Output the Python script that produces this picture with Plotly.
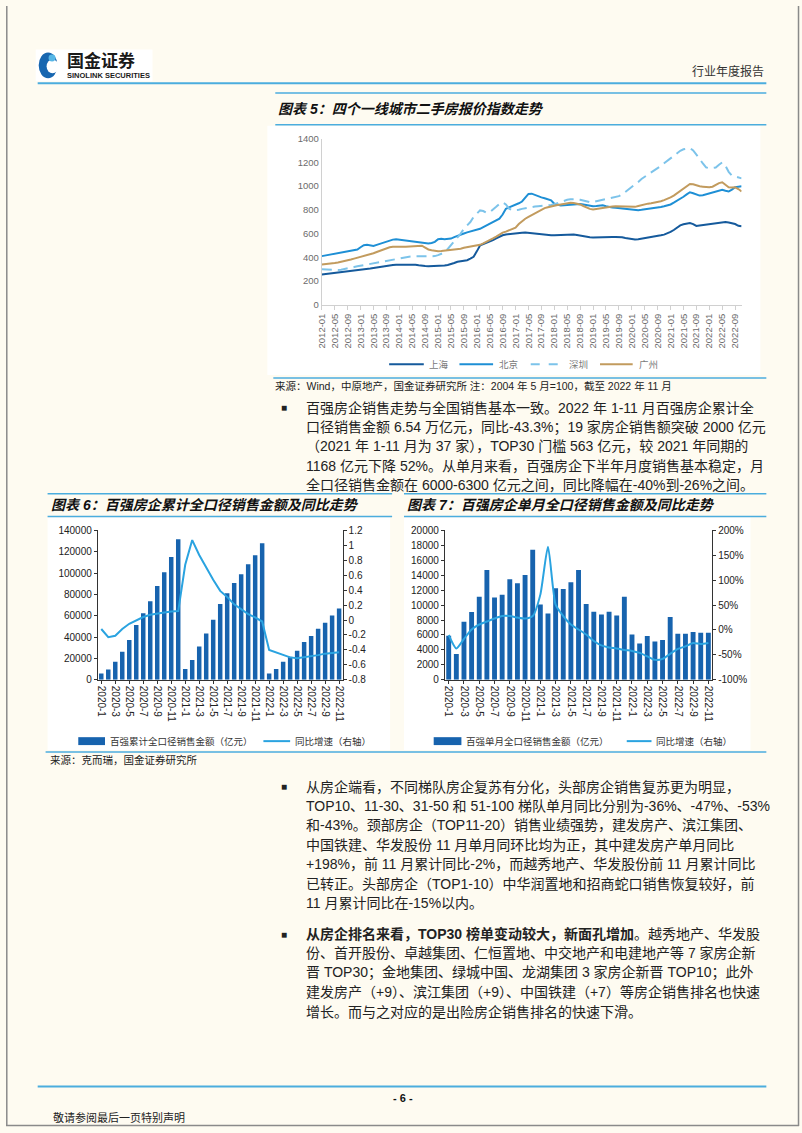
import plotly.graph_objects as go

W, H = 802, 1133
def fx(x): return x / W
def fy(y): return 1 - y / H

# ---------------- Data: chart 5 (second-hand listing price index) ----------------
months5 = [f"{yr}-{mo:02d}" for yr in range(2012, 2023) for mo in range(1, 13)][:131]
tick5 = months5[::4]

shanghai = [255, 258, 261, 265, 268, 271, 274, 277, 280, 283, 286, 289,
            293, 296, 300, 305, 309, 314, 320, 326, 330, 333, 335, 337,
            338, 339, 340, 341, 340, 338, 333, 328, 326, 325, 325, 326,
            326, 328, 331, 335, 342, 352, 363, 368, 372, 376, 388, 404,
            450, 500, 512, 522, 530, 545, 560, 575, 586, 592, 596, 598,
            600, 604, 606, 608, 605, 600, 596, 592, 590, 588, 587, 586,
            586, 588, 590, 592, 594, 594, 592, 588, 582, 577, 572, 569,
            566, 568, 570, 572, 573, 573, 572, 572, 571, 568, 562, 557,
            552, 551, 552, 556, 561, 566, 572, 576, 580, 585, 591, 600,
            614, 630, 650, 669, 678, 685, 689, 680, 664, 668, 672, 675,
            678, 681, 683, 687, 692, 697, 693, 689, 680, 665, 661]
beijing = [410, 415, 420, 424, 428, 432, 438, 444, 450, 456, 462, 466,
           485, 502, 505, 500, 496, 505, 515, 525, 535, 542, 549, 552,
           548, 546, 544, 540, 535, 530, 524, 520, 518, 516, 520, 530,
           552, 556, 553, 555, 558, 570, 582, 592, 600, 610, 618, 622,
           628, 640, 655, 670, 683, 695, 710, 725, 760, 809, 820, 830,
           842, 855, 870, 905, 934, 936, 925, 912, 905, 898, 892, 880,
           851, 842, 837, 838, 840, 845, 850, 851, 848, 845, 840, 835,
           831, 832, 835, 838, 830, 823, 820, 818, 815, 812, 809, 805,
           800, 795, 797, 800, 803, 806, 809, 812, 818, 824, 830, 837,
           845, 860, 875, 892, 910, 930, 948, 940, 930, 920, 922, 930,
           940, 948, 955, 962, 968, 960, 954, 970, 990, 995, 998]
shenzhen = [300, 298, 296, 295, 294, 293, 296, 300, 306, 312, 318, 324,
            329, 334, 340, 346, 352, 358, 363, 368, 373, 378, 384, 390,
            394, 398, 402, 405, 408, 410, 410, 409, 408, 408, 409, 410,
            418, 428, 441, 470, 502, 530, 560, 600, 640, 668, 697, 740,
            770, 795, 790, 775, 780, 800, 825, 850, 864, 845, 810, 795,
            795, 800, 808, 814, 818, 822, 827, 831, 833, 835, 837, 840,
            848, 858, 868, 878, 884, 888, 892, 890, 885, 878, 870, 864,
            866, 872, 880, 887, 892, 897, 902, 906, 915, 930, 950, 976,
            995, 1015, 1035, 1060, 1078, 1095, 1112, 1130, 1150, 1170, 1192, 1213,
            1232, 1252, 1275, 1297, 1310, 1316, 1320, 1300, 1269, 1230, 1190, 1157,
            1150, 1155, 1157, 1180, 1199, 1170, 1120, 1088, 1080, 1075, 1065]
guangzhou = [340, 342, 345, 349, 353, 357, 362, 368, 375, 382, 389, 396,
             403, 410, 417, 424, 434, 445, 456, 467, 476, 484, 488, 490,
             490, 489, 488, 490, 494, 498, 502, 498, 482, 466, 460, 455,
             452, 454, 456, 458, 460, 464, 468, 472, 480, 485, 490, 493,
             496, 505, 518, 530, 544, 560, 575, 592, 608, 616, 626, 636,
             650, 680, 705, 725, 740, 755, 767, 782, 798, 814, 822, 830,
             837, 840, 845, 850, 855, 859, 857, 852, 845, 832, 818, 808,
             803, 808, 812, 817, 820, 824, 828, 831, 830, 828, 826, 824,
             823, 825, 832, 840, 848, 852, 856, 860, 864, 872, 882, 892,
             905, 920, 940, 962, 985, 1005, 1018, 1015, 1005, 998, 995, 992,
             990, 995, 1010, 1025, 1032, 1010, 990, 988, 990, 975, 954]

# ---------------- Data: charts 6 & 7 ----------------
months67 = ["2020-1", "2020-2", "2020-3", "2020-4", "2020-5", "2020-6", "2020-7", "2020-8",
            "2020-9", "2020-10", "2020-11", "2020-12",
            "2021-1", "2021-2", "2021-3", "2021-4", "2021-5", "2021-6", "2021-7", "2021-8",
            "2021-9", "2021-10", "2021-11", "2021-12",
            "2022-1", "2022-2", "2022-3", "2022-4", "2022-5", "2022-6", "2022-7", "2022-8",
            "2022-9", "2022-10", "2022-11"]
tick67 = months67[::2]

cum_sales = [5900, 9600, 17000, 26200, 37400, 51300, 62400, 73500, 88000, 100700, 115000, 131700,
             10200, 18500, 31200, 43300, 56300, 71100, 81000, 90600, 98900, 108200, 116800, 127900,
             5800, 10200, 17000, 21600, 27200, 35500, 41100, 47900, 53500, 60300, 66800]
cum_yoy = [-0.12, -0.23, -0.21, -0.12, -0.05, 0.0, 0.04, 0.07, 0.09, 0.10, 0.115, 0.12,
           0.74, 1.07, 0.87, 0.70, 0.54, 0.39, 0.31, 0.21, 0.15, 0.08, 0.036, -0.02,
           -0.40, -0.43, -0.46, -0.50, -0.51, -0.50, -0.49, -0.47, -0.45, -0.44, -0.43]

mon_sales = [5900, 3440, 7770, 9090, 11130, 14700, 11000, 11400, 13470, 12940, 14040, 17400,
             10070, 8870, 12270, 12150, 13070, 14700, 10160, 9100, 8740, 9100, 8600, 11130,
             6050, 4860, 5870, 5120, 5340, 8390, 6180, 6180, 6400, 6310, 6310]
mon_yoy = [-10, -37, -18, 1, 11, 17, 23, 28, 28, 25, 23, 28,
           71, 167, 51, 28, 11, 1, -9, -22, -31, -35, -37, -40,
           -42, -46, -53, -60, -58, -48, -38, -33, -26, -28, -26]

# ---------------- Styling constants ----------------
BG = "#fefbf1"
LINE_BLUE = "#4badde"
BAR_BLUE = "#1763ae"
YOY_BLUE = "#2aa3e0"
FONT = "Liberation Sans, Arial, Noto Sans CJK SC"
CJK = "Liberation Sans, Noto Sans CJK SC"
TXT = "#222222"

fig = go.Figure()

# Chart 5 lines
c5 = [("上海", shanghai, "#155a9c", "solid"),
      ("北京", beijing, "#1e8fd5", "solid"),
      ("深圳", shenzhen, "#7cc3ea", "10px,6px"),
      ("广州", guangzhou, "#c29b5e", "solid")]
for name, vals, col, dash in c5:
    fig.add_trace(go.Scatter(x=months5, y=vals, name=name, mode="lines",
                             line=dict(color=col, width=2, dash=dash),
                             xaxis="x", yaxis="y", showlegend=False))

# Chart 6
fig.add_trace(go.Bar(x=months67, y=cum_sales, name="百强累计全口径销售金额（亿元）",
                     marker=dict(color=BAR_BLUE, line=dict(width=0)),
                     xaxis="x2", yaxis="y2", showlegend=False))
fig.add_trace(go.Scatter(x=months67, y=cum_yoy, name="同比增速（右轴）", mode="lines",
                         line=dict(color=YOY_BLUE, width=2),
                         xaxis="x2", yaxis="y3", showlegend=False))
# Chart 7
fig.add_trace(go.Bar(x=months67, y=mon_sales, name="百强单月全口径销售金额（亿元）",
                     marker=dict(color=BAR_BLUE, line=dict(width=0)),
                     xaxis="x3", yaxis="y4", showlegend=False))
fig.add_trace(go.Scatter(x=months67, y=mon_yoy, name="同比增速（右轴）", mode="lines",
                         line=dict(color=YOY_BLUE, width=2, shape="spline", smoothing=0.6),
                         xaxis="x3", yaxis="y5", showlegend=False))

gray_tick = dict(family=FONT, size=9.5, color="#6b6b6b")
dark_tick = dict(family=FONT, size=10, color="#222222")

y6r_vals = [-0.8, -0.6, -0.4, -0.2, 0, 0.2, 0.4, 0.6, 0.8, 1, 1.2]
y6r_text = ["-0.8", "-0.6", "-0.4", "-0.2", "0", "0.2", "0.4", "0.6", "0.8", "1", "1.2"]
y7r_vals = [-100, -50, 0, 50, 100, 150, 200]
y7r_text = ["-100%", "-50%", "0%", "50%", "100%", "150%", "200%"]

fig.update_layout(
    width=W, height=H, margin=dict(l=0, r=0, t=0, b=0),
    paper_bgcolor=BG, plot_bgcolor="rgba(0,0,0,0)",
    showlegend=False, bargap=0.36,
    font=dict(family=CJK, color=TXT),
    xaxis=dict(domain=[fx(319), fx(743)], anchor="y", type="category",
               categoryorder="array", categoryarray=months5,
               range=[0, 130], tickmode="array", tickvals=tick5, ticktext=tick5,
               tickangle=-90, tickfont=gray_tick, showline=True, linecolor="#d0d0d0",
               ticks="outside", ticklen=4, tickcolor="#d0d0d0", showgrid=False, zeroline=False),
    yaxis=dict(domain=[fy(302), fy(134)], anchor="x", range=[0, 1400], dtick=200,
               tickfont=gray_tick, showline=True, linecolor="#d0d0d0", showgrid=False,
               zeroline=False, ticks=""),
    xaxis2=dict(domain=[fx(92.7), fx(340)], anchor="y2", type="category",
                categoryorder="array", categoryarray=months67, range=[-0.5, 34.5],
                tickmode="array", tickvals=tick67, ticktext=tick67, tickangle=90,
                tickfont=dark_tick, showline=True, linecolor="#333333", linewidth=1,
                ticks="outside", ticklen=3, tickcolor="#333333", showgrid=False),
    yaxis2=dict(domain=[fy(681), fy(530)], anchor="x2", range=[0, 140000], dtick=20000,
                tickformat="d", tickfont=dark_tick, showline=True, linecolor="#333333",
                ticks="outside", ticklen=3, tickcolor="#333333", showgrid=False, zeroline=False),
    yaxis3=dict(overlaying="y2", anchor="x2", side="right", range=[-0.8, 1.2],
                tickmode="array", tickvals=y6r_vals, ticktext=y6r_text,
                tickfont=dark_tick, showline=True, linecolor="#333333",
                ticks="outside", ticklen=3, tickcolor="#333333", showgrid=False, zeroline=False),
    xaxis3=dict(domain=[fx(443.3), fx(713.3)], anchor="y4", type="category",
                categoryorder="array", categoryarray=months67, range=[-0.5, 34.5],
                tickmode="array", tickvals=tick67, ticktext=tick67, tickangle=90,
                tickfont=dark_tick, showline=True, linecolor="#333333",
                ticks="outside", ticklen=3, tickcolor="#333333", showgrid=False),
    yaxis4=dict(domain=[fy(681), fy(530)], anchor="x3", range=[0, 20000], dtick=2000,
                tickformat="d", tickfont=dark_tick, showline=True, linecolor="#333333",
                ticks="outside", ticklen=3, tickcolor="#333333", showgrid=False, zeroline=False),
    yaxis5=dict(overlaying="y4", anchor="x3", side="right", range=[-100, 200],
                tickmode="array", tickvals=y7r_vals, ticktext=y7r_text,
                tickfont=dark_tick, showline=True, linecolor="#333333",
                ticks="outside", ticklen=3, tickcolor="#333333", showgrid=False, zeroline=False),
)

shapes = []
def rect(x0, y0, x1, y1, fill, line_col=None, layer="below", lw=0):
    shapes.append(dict(type="rect", xref="paper", yref="paper",
                       x0=fx(x0), x1=fx(x1), y0=fy(y1), y1=fy(y0),
                       fillcolor=fill, line=dict(width=lw, color=line_col or fill), layer=layer))
def hline(x0, x1, y, col=LINE_BLUE, w=1.5, dash="solid"):
    shapes.append(dict(type="line", xref="paper", yref="paper",
                       x0=fx(x0), x1=fx(x1), y0=fy(y), y1=fy(y),
                       line=dict(color=col, width=w, dash=dash)))
def vline(x, y0, y1, col, w=1.5):
    shapes.append(dict(type="line", xref="paper", yref="paper",
                       x0=fx(x), x1=fx(x), y0=fy(y0), y1=fy(y1),
                       line=dict(color=col, width=w)))

# page frame
vline(0.8, 0, 1132, "#8a8a8a", 1.5)
vline(800.5, 0, 1132, "#8a8a8a", 1.5)
hline(0, 801, 1131.5, "#8a8a8a", 1.5)

# white chart panels
rect(264, 121, 762, 373, "white")
rect(42, 517, 388, 752, "white")
rect(402, 517, 752, 752, "white")

# header
rect(30, 44, 148, 76, "white")
shapes.append(dict(type="circle", xref="paper", yref="paper", x0=fx(33), x1=fx(52),
                   y0=fy(73), y1=fy(47), fillcolor="#1766b0", line=dict(width=0)))
shapes.append(dict(type="circle", xref="paper", yref="paper", x0=fx(41), x1=fx(53),
                   y0=fy(68), y1=fy(54), fillcolor="white", line=dict(width=0)))
shapes.append(dict(type="circle", xref="paper", yref="paper", x0=fx(43), x1=fx(50),
                   y0=fy(56), y1=fy(49), fillcolor="#56b6e6", line=dict(width=0)))
hline(32, 768, 78, LINE_BLUE, 2)

# title lines
hline(272, 768, 88, LINE_BLUE, 1.5)
hline(272, 768, 120, LINE_BLUE, 1.5)
hline(270, 768, 376, LINE_BLUE, 1.5)
hline(42, 390, 493, LINE_BLUE, 1.5)
hline(42, 390, 516, LINE_BLUE, 1.5)
hline(402, 768, 493, LINE_BLUE, 1.5)
hline(402, 768, 516, LINE_BLUE, 1.5)
hline(40, 768, 754, LINE_BLUE, 1.5)
# footer line
hline(32, 768, 1092, LINE_BLUE, 2)

# chart 5 legend swatches
leg5 = [(387, 422, "#155a9c", "solid", 425, "上海"),
        (458, 492, "#1e8fd5", "solid", 496, "北京"),
        (530, 563, "#7cc3ea", "dash", 567, "深圳"),
        (600, 633, "#c29b5e", "solid", 637, "广州")]
for x0, x1, col, dash, tx, lab in leg5:
    hline(x0, x1, 362, col, 2, dash)

# chart 6/7 legend swatches
rect(73, 739, 100, 747, BAR_BLUE, layer="above")
hline(260, 287, 743, YOY_BLUE, 2)
rect(432, 739, 460, 747, BAR_BLUE, layer="above")
hline(627, 652, 743, YOY_BLUE, 2)

fig.update_layout(shapes=shapes)

ann = []
def text(x, y, s, size=14, color=TXT, anchor="left", family=CJK):
    ann.append(dict(x=fx(x), y=fy(y), xref="paper", yref="paper", text=s, showarrow=False,
                    xanchor=anchor, yanchor="middle", align=anchor,
                    font=dict(size=size, color=color, family=family)))

# header texts
text(60, 56, "<b>国金证券</b>", 17, "#1a1a1a")
text(60, 70, "<b>SINOLINK SECURITIES</b>", 7.5, "#1a1a1a", family=FONT)
text(768, 66, "行业年度报告", 12, "#333333", anchor="right")

# titles
text(273, 104, "<b><i>图表 5：四个一线城市二手房报价指数走势</i></b>", 14, "#111111")
text(43, 504, "<b><i>图表 6：百强房企累计全口径销售金额及同比走势</i></b>", 14, "#111111")
text(403, 504, "<b><i>图表 7：百强房企单月全口径销售金额及同比走势</i></b>", 14, "#111111")

# legends
for x0, x1, col, dash, tx, lab in leg5:
    text(tx, 362, lab, 9.5, "#7a7a7a")
text(103, 743, "百强累计全口径销售金额（亿元）", 9.5, "#333333")
text(290, 743, "同比增速（右轴）", 9.5, "#333333")
text(463, 743, "百强单月全口径销售金额（亿元）", 9.5, "#333333")
text(655, 743, "同比增速（右轴）", 9.5, "#333333")

# sources
text(270, 384, "来源：Wind，中原地产，国金证券研究所 注：2004 年 5 月=100，截至 2022 年 11 月", 10.5, "#222222")
text(42, 762, "来源：克而瑞，国金证券研究所", 10.5, "#222222")

# paragraphs
para1 = ["百强房企销售走势与全国销售基本一致。2022 年 1-11 月百强房企累计全",
         "口径销售金额 6.54 万亿元，同比-43.3%；19 家房企销售额突破 2000 亿元",
         "（2021 年 1-11 月为 37 家），TOP30 门槛 563 亿元，较 2021 年同期的",
         "1168 亿元下降 52%。从单月来看，百强房企下半年月度销售基本稳定，月",
         "全口径销售金额在 6000-6300 亿元之间，同比降幅在-40%到-26%之间。"]
para2 = ["从房企端看，不同梯队房企复苏有分化，头部房企销售复苏更为明显，",
         "TOP10、11-30、31-50 和 51-100 梯队单月同比分别为-36%、-47%、-53%",
         "和-43%。颈部房企（TOP11-20）销售业绩强势，建发房产、滨江集团、",
         "中国铁建、华发股份 11 月单月同环比均为正，其中建发房产单月同比",
         "+198%，前 11 月累计同比-2%，而越秀地产、华发股份前 11 月累计同比",
         "已转正。头部房企（TOP1-10）中华润置地和招商蛇口销售恢复较好，前",
         "11 月累计同比在-15%以内。"]
para3 = ["<b>从房企排名来看，TOP30 榜单变动较大，新面孔增加</b>。越秀地产、华发股",
         "份、首开股份、卓越集团、仁恒置地、中交地产和电建地产等 7 家房企新",
         "晋 TOP30；金地集团、绿城中国、龙湖集团 3 家房企新晋 TOP10；此外",
         "建发房产（+9）、滨江集团（+9）、中国铁建（+7）等房企销售排名也快速",
         "增长。而与之对应的是出险房企销售排名的快速下滑。"]

for start, lines in ((406, para1), (789, para2), (938, para3)):
    text(276, start, "■", 10, "#222222")
    for i, s in enumerate(lines):
        text(301, start + i * 19.6, s, 14)

# footer
text(401, 1104, "<b>- 6 -</b>", 11, "#111111", anchor="center", family=FONT)
text(45, 1123, "敬请参阅最后一页特别声明", 11, "#222222")

fig.update_layout(annotations=ann)
fig.write_html("out.html",
               config={"displayModeBar": False},
               post_script="document.body.style.margin='0';"
                           "document.body.style.padding='0';"
                           "document.body.style.overflow='hidden';"
                           "document.documentElement.style.overflow='hidden';")
